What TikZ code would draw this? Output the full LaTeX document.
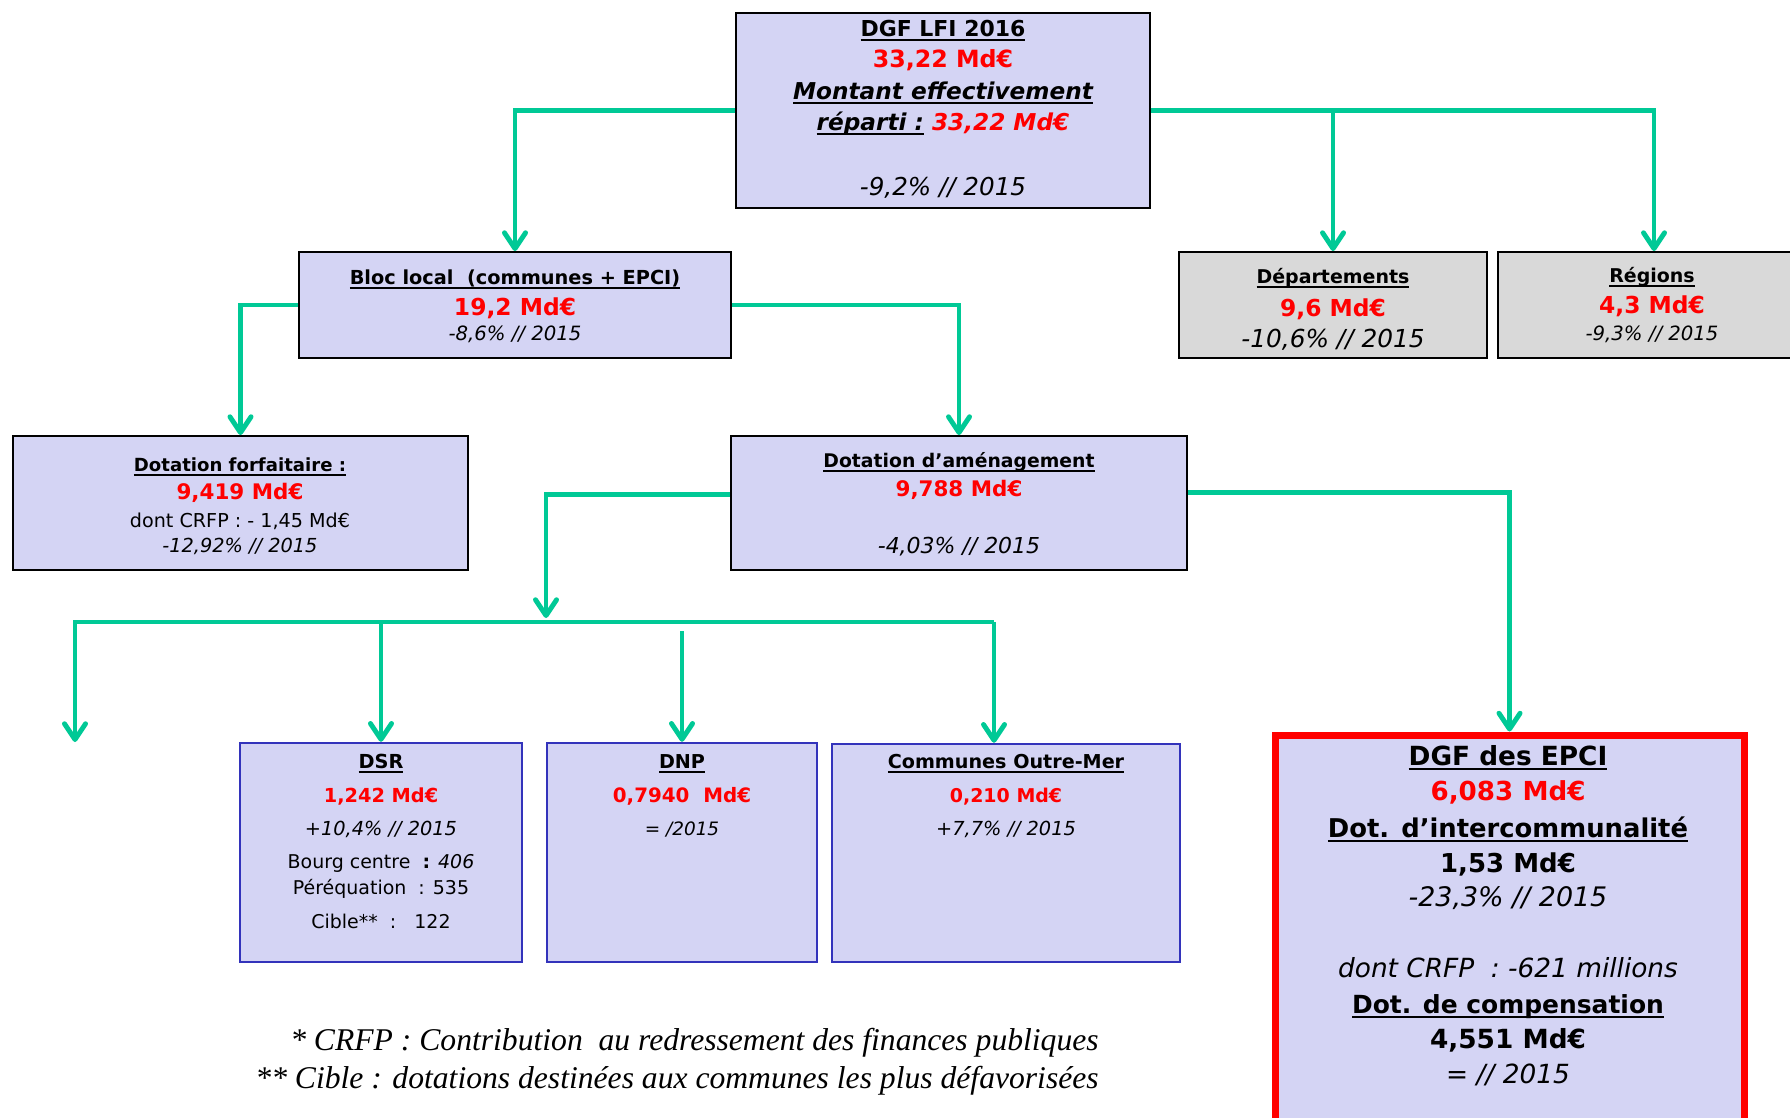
\documentclass[tikz,border=0pt]{standalone}
\usepackage{fontspec}
\setmainfont{DejaVu Sans}
\newfontfamily\footfont{Liberation Serif}
\usetikzlibrary{arrows.meta,fit}
\definecolor{lav}{RGB}{212,212,244}
\definecolor{greybox}{RGB}{217,217,217}
\definecolor{conngreen}{RGB}{0,201,150}
\definecolor{boxblue}{RGB}{51,51,187}
\definecolor{myred}{RGB}{255,0,0}
\newcommand{\fs}[1]{\fontsize{#1}{#1}\selectfont}
\newsavebox{\ulbox}
\newcommand{\myul}[1]{\sbox{\ulbox}{#1}\leavevmode\rlap{\rule[-2.9pt]{\wd\ulbox}{1.1pt}}\usebox{\ulbox}}
\begin{document}
\begin{tikzpicture}[x=0.02cm,y=-0.02cm,
  box/.style={draw=black,line width=1.1pt,fill=lav,inner sep=0pt},
  greyb/.style={draw=black,line width=1.1pt,fill=greybox,inner sep=0pt},
  blueb/.style={draw=boxblue,line width=1.4pt,fill=lav,inner sep=0pt},
  redb/.style={draw=myred,line width=4pt,fill=lav,inner sep=0pt},
  conn/.style={draw=conngreen,line width=2.8pt,-{Straight Barb[length=9pt,width=12pt,round]}},
  txt/.style={anchor=base,inner sep=0pt},
  fnote/.style={anchor=base east,inner sep=0pt,font=\footfont\fs{18}\itshape},
  rd/.style={text=myred}]
\useasboundingbox (0,0) rectangle (1790,1117);
% boxes
\node[box,fit={(736,13) (1150,208)}] (top) {};
\node[box,fit={(299,252) (731,358)}] (bloc) {};
\node[greyb,fit={(1179,252) (1487,358)}] (dep) {};
\node[greyb,fit={(1498,252) (1810,358)}] (reg) {};
\node[box,fit={(13,436) (468,570)}] (forf) {};
\node[box,fit={(731,436) (1187,570)}] (amen) {};
\node[blueb,fit={(240,743) (522,962)}] (dsr) {};
\node[blueb,fit={(547,743) (817,962)}] (dnp) {};
\node[blueb,fit={(832,744) (1180,962)}] (com) {};
\node[redb,fit={(1275,735) (1744,1140)}] (epci) {};
% top box text
\node[txt,font=\fs{12.5}\bfseries] (t1) at (943,36) {\myul{DGF LFI 2016}};
\node[txt,rd,font=\fs{13.5}\bfseries] (t2) at (943,67) {33,22 Md€};
\node[txt,font=\fs{13.2}\bfseries\itshape] (t3) at (943,99) {\myul{Montant effectivement}};
\node[txt,font=\fs{13.2}\bfseries\itshape] (t4) at (943,130) {\myul{réparti :} {\color{myred}33,22 Md€}};
\node[txt,font=\fs{14}\itshape] (t5) at (943,195) {-9,2\% // 2015};
% bloc local
\node[txt,font=\fs{11}\bfseries] (b1) at (515,284) {\myul{Bloc local\ \ (communes + EPCI)}};
\node[txt,rd,font=\fs{13.3}\bfseries] (b2) at (515,315) {19,2 Md€};
\node[txt,font=\fs{11.2}\itshape] (b3) at (515,340) {-8,6\% // 2015};
% departements / regions
\node[txt,font=\fs{10.8}\bfseries] (d1) at (1333,283) {\myul{Départements}};
\node[txt,rd,font=\fs{13.3}\bfseries] (d2) at (1333,316) {9,6 Md€};
\node[txt,font=\fs{14.1}\itshape] (d3) at (1333,347) {-10,6\% // 2015};
\node[txt,font=\fs{10.8}\bfseries] (r1) at (1652,282) {\myul{Régions}};
\node[txt,rd,font=\fs{13.3}\bfseries] (r2) at (1652,313) {4,3 Md€};
\node[txt,font=\fs{11.2}\itshape] (r3) at (1652,340) {-9,3\% // 2015};
% dotation forfaitaire
\node[txt,font=\fs{10.3}\bfseries] (f1) at (240,471) {\myul{Dotation forfaitaire :}};
\node[txt,rd,font=\fs{12.2}\bfseries] (f2) at (240,499) {9,419 Md€};
\node[txt,font=\fs{10.9}] (f3) at (240,527) {dont CRFP : - 1,45 Md€};
\node[txt,font=\fs{11}\itshape] (f4) at (240,552) {-12,92\% // 2015};
% dotation amenagement
\node[txt,font=\fs{10.7}\bfseries] (a1) at (959,467) {\myul{Dotation d’aménagement}};
\node[txt,rd,font=\fs{12.2}\bfseries] (a2) at (959,496) {9,788 Md€};
\node[txt,font=\fs{12.5}\itshape] (a3) at (959,553) {-4,03\% // 2015};
% DSR
\node[txt,font=\fs{11}\bfseries] (s1) at (381,768) {\myul{DSR}};
\node[txt,rd,font=\fs{11}\bfseries] (s2) at (381,802) {1,242 Md€};
\node[txt,font=\fs{11}\itshape] (s3) at (381,835) {+10,4\% // 2015};
\node[txt,font=\fs{10.8}] (s4) at (381,868) {Bourg centre\ \ \textbf{:} \textit{406}};
\node[txt,font=\fs{10.8}] (s5) at (381,894) {Péréquation\ \ : 535};
\node[txt,font=\fs{10.8}] (s6) at (381,928) {Cible**\ \ :\ \ \ 122};
% DNP
\node[txt,font=\fs{10.9}\bfseries] (n1) at (682,768) {\myul{DNP}};
\node[txt,rd,font=\fs{11.3}\bfseries] (n2) at (682,802) {0,7940\ \ Md€};
\node[txt,font=\fs{10.5}\itshape] (n3) at (682,835) {= /2015};
% Communes Outre-Mer
\node[txt,font=\fs{10.9}\bfseries] (c1) at (1006,768) {\myul{Communes Outre-Mer}};
\node[txt,rd,font=\fs{10.8}\bfseries] (c2) at (1006,802) {0,210 Md€};
\node[txt,font=\fs{11}\itshape] (c3) at (1006,835) {+7,7\% // 2015};
% EPCI
\node[txt,font=\fs{15}\bfseries] (e1) at (1508,765) {\myul{DGF des EPCI}};
\node[txt,rd,font=\fs{14.9}\bfseries] (e2) at (1508,800) {6,083 Md€};
\node[txt,font=\fs{14.7}\bfseries] (e3) at (1508,837) {\myul{Dot. d’intercommunalité}};
\node[txt,font=\fs{14.8}\bfseries] (e4) at (1508,872) {1,53 Md€};
\node[txt,font=\fs{15.3}\itshape] (e5) at (1508,906) {-23,3\% // 2015};
\node[txt,font=\fs{15}\itshape] (e6) at (1508,977) {dont CRFP\ \ : -621 millions};
\node[txt,font=\fs{14.2}\bfseries] (e7) at (1508,1013) {\myul{Dot. de compensation}};
\node[txt,font=\fs{15}\bfseries] (e8) at (1508,1048) {4,551 Md€};
\node[txt,font=\fs{15}\itshape] (e9) at (1508,1083) {= // 2015};
% footnotes
\node[fnote] (fn1) at (1099,1050) {* CRFP : Contribution\ \ au redressement des finances publiques};
\node[fnote] (fn2) at (1099,1088) {** Cible : dotations destinées aux communes les plus défavorisées};
% connectors
\coordinate (busjoin) at (546,618);
\coordinate (bL) at (75,622);
\coordinate (bR) at (994,622);
\coordinate (free) at (75,742);
\coordinate (dnpS) at (682,631);
\draw[conn] (top.west) -| (bloc.north);
\draw[conn] (top.east) -| (dep.north);
\draw[conn] (top.east) -| (reg.north);
\draw[conn] (bloc.west) -| (forf.north);
\draw[conn] (bloc.east) -| (amen.north);
\draw[conn] ([yshift=5pt]amen.west) -| (busjoin);
\draw[conn] ([yshift=6pt]amen.east) -| (epci.north);
\draw[conn] (bR) -- (bL) -- (free);
\draw[conn] (bR) -- (bR |- com.north);
\draw[conn] (dsr.north |- bL) -- (dsr.north);
\draw[conn] (dnpS) -- (dnp.north);
\end{tikzpicture}
\end{document}
